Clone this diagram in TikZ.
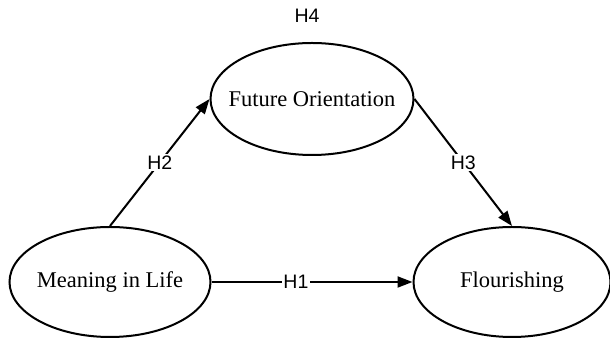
\documentclass[tikz,border=0pt]{standalone}
\usepackage{fontspec}
\setmainfont{Liberation Serif}
\newfontfamily\labfont{Liberation Sans}
\usetikzlibrary{shapes.geometric,arrows.meta}
\tikzset{
  construct/.style={ellipse, draw, line width=2pt, inner sep=0pt, font=\fontsize{22.5}{26}\selectfont},
  path/.style={line width=2pt, -{Triangle[length=15pt,width=11pt]}},
  hlab/.style={fill=white, inner sep=1.5pt, font=\labfont\fontsize{19.5}{21}\selectfont}
}
\begin{document}
\begin{tikzpicture}[x=1pt,y=1pt]
\useasboundingbox (0,0) rectangle (610,339);
\node[construct, minimum width=203pt, minimum height=112pt] (fo) at (312,240) {\makebox[0pt]{Future Orientation}};
\node[construct, minimum width=201pt, minimum height=110pt] (mil) at (110,57) {\makebox[0pt]{Meaning in Life}};
\node[construct, minimum width=197pt, minimum height=110pt] (fl) at (512,57) {\makebox[0pt]{Flourishing}};
\node[font=\labfont\fontsize{19.5}{21}\selectfont] (h4) at (307,323) {H4};
\draw[path] (mil.east) -- node[hlab, pos=0.42] {H1} (fl.west);
\draw[path] (mil.north) -- node[hlab, pos=0.5] {H2} (fo.west);
\draw[path] (fo.east) -- node[hlab, pos=0.5] {H3} (fl.north);
\end{tikzpicture}
\end{document}
